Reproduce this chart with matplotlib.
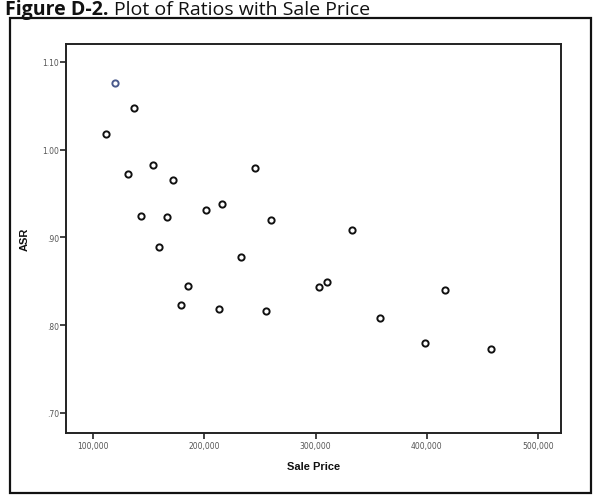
import matplotlib
matplotlib.use("Agg")
import matplotlib.pyplot as plt
from matplotlib.patches import Rectangle

# Data
sale_price = [119800, 136400, 111700, 131600, 154200, 171900, 245900, 143400,
              166800, 202000, 215600, 260200, 159100, 232600, 332900, 185300,
              178700, 212800, 255900, 303100, 310300, 358200, 416300, 398300,
              457500]
asr = [1.076, 1.047, 1.018, 0.972, 0.982, 0.965, 0.979, 0.924,
       0.9235, 0.931, 0.938, 0.920, 0.889, 0.878, 0.909, 0.845,
       0.823, 0.818, 0.816, 0.843, 0.849, 0.808, 0.840, 0.780,
       0.7725]
x_ticks = [100000, 200000, 300000, 400000, 500000]
x_tick_labels = ["100,000", "200,000", "300,000", "400,000", "500,000"]
y_ticks = [0.70, 0.80, 0.90, 1.00, 1.10]
y_tick_labels = [".70", ".80", ".90", "1.00", "1.10"]

W, H = 595, 502
fig = plt.figure(figsize=(W / 100, H / 100), dpi=100)
fig.patch.set_facecolor("white")

# outer frame
fig.patches.append(Rectangle((10 / W, 1 - 494 / H), (591 - 10) / W, (494 - 19) / H,
                             transform=fig.transFigure, fill=False,
                             edgecolor="#111111", linewidth=1.6))

# title
fig.text(5 / W, 1 - 15 / H, "Figure D-2.", fontsize=14, fontweight="bold",
         family="Open Sans", color="#111111", va="baseline", ha="left")
fig.text(114 / W, 1 - 15 / H, "Plot of Ratios with Sale Price", fontsize=14,
         family="Open Sans", color="#111111", va="baseline", ha="left")

ax = fig.add_axes([66 / W, 1 - 434 / H, (561 - 66) / W, (434 - 45) / H])
colors = ["#4a5a8c"] + ["#111111"] * (len(sale_price) - 1)
for xv, yv, c in zip(sale_price, asr, colors):
    ax.plot([xv], [yv], linestyle="none", marker="o", markersize=4.5,
            markerfacecolor="white", markeredgecolor=c, markeredgewidth=1.4)

ax.set_xlim(75700, 520700)
ax.set_ylim(0.677, 1.1205)
ax.set_xticks(x_ticks)
ax.set_xticklabels(x_tick_labels)
ax.set_yticks(y_ticks)
ax.set_yticklabels(y_tick_labels)
ax.tick_params(axis="both", direction="out", length=4, width=1.2,
               labelsize=5.5, labelcolor="#555555", color="#222222", pad=2)
ax.tick_params(axis="y", pad=1)
for s in ax.spines.values():
    s.set_linewidth(1.4)
    s.set_color("#222222")

ax.set_xlabel("Sale Price", fontsize=8, fontweight="bold", family="Liberation Sans",
              color="#111111", labelpad=8)
ax.set_ylabel("ASR", fontsize=8, fontweight="bold", family="Liberation Sans",
              color="#111111", labelpad=9)

fig.savefig("out.png", dpi=100, facecolor="white")
